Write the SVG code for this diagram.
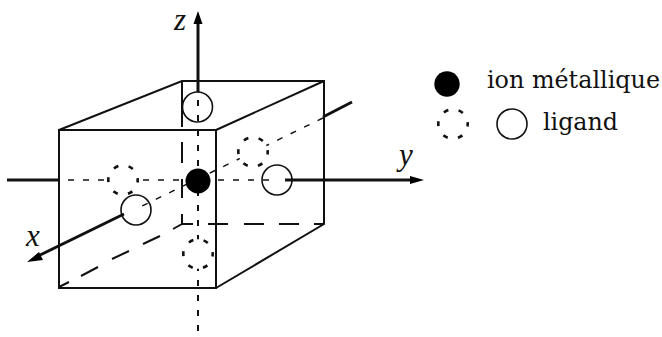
<svg xmlns="http://www.w3.org/2000/svg" width="662" height="337" viewBox="0 0 662 337">
<style>
.e{fill:none;stroke:#111;stroke-width:2}
.l{fill:none;stroke:#111;stroke-width:2}
.d{fill:none;stroke:#111;stroke-width:1.4;stroke-dasharray:6 9}
.z{fill:none;stroke:#111;stroke-width:2;stroke-dasharray:6 9}
.a{fill:none;stroke:#111;stroke-width:3}
.o{fill:none;stroke:#111;stroke-width:1.6}
.h{fill:#fff;stroke:#111;stroke-width:2.6;stroke-dasharray:5 10.400;stroke-dashoffset:2.500}
.k{fill:#000}
.t{font-family:"DejaVu Serif",serif;fill:#111}
.ax{font-family:"Liberation Serif",serif;font-size:31px;font-style:italic}
.lg{font-size:23.500px}
</style>
<rect width="662" height="337" fill="#fff"/>
<g id="connectors">
<path class="e" d="M59 130H216V288H59ZM59 130L182 81H324V224L216 288M216 130L324 81"/>
<path class="l" d="M182 81V127M182 142V163M182 179V198M182 214V224M182 224H193M208 224H228M244 224H264M279 224H299M314 224H324M182 224L173 229M160 236L143 244M129 251L112 259M98 267L81 276M69 282L59 287"/>
<path class="d" d="M68 180H277"/>
<path class="d" d="M323 118L138 208"/>
<path class="z" d="M198 100V337"/>
<path class="a" d="M198 92V20M285 180H414M7 180H59M124 214L38 256M323 117L352 102"/>
<path class="k" d="M198 11L202.500 24H193.500ZM424 180L410 176V184ZM27 262L39 252L43 260Z"/>
</g>
<g id="ligand-top"><circle class="o" cx="197.500" cy="107" r="15"/></g>
<g id="ion-center"><circle class="k" cx="198" cy="181" r="12.500"/></g>
<g id="ligand-right"><circle class="o" cx="277" cy="180" r="15"/></g>
<g id="ligand-front"><circle class="o" cx="136" cy="210" r="15"/></g>
<g id="ligand-left"><circle class="h" cx="123" cy="180" r="14.700"/></g>
<g id="ligand-back"><circle class="h" cx="253" cy="152" r="14.700"/></g>
<g id="ligand-bottom"><circle class="h" cx="198" cy="254" r="14.700"/></g>
<g id="label-x"><text class="t ax" x="26" y="246">x</text></g>
<g id="label-y"><text class="t ax" x="399" y="165">y</text></g>
<g id="label-z"><text class="t ax" x="174" y="30">z</text></g>
<g id="legend-ion"><circle class="k" cx="447" cy="84" r="12.700"/><text class="t lg" x="487" y="88" textLength="173" lengthAdjust="spacingAndGlyphs">ion métallique</text></g>
<g id="legend-ligand"><circle class="h" cx="453" cy="124" r="14.700"/><circle class="o" cx="512" cy="124" r="15"/><text class="t lg" x="543" y="130" textLength="75" lengthAdjust="spacingAndGlyphs">ligand</text></g>
</svg>
